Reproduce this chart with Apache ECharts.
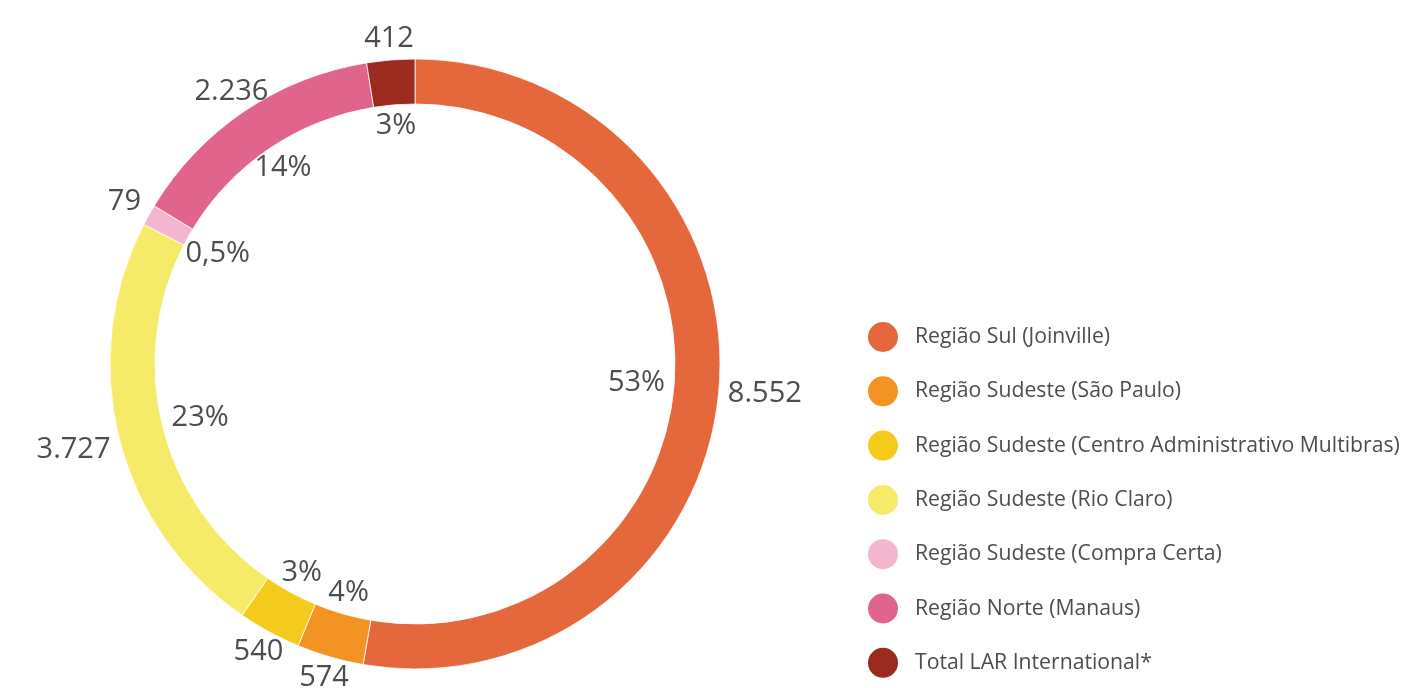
<!DOCTYPE html>
<html>
<head>
<meta charset="utf-8">
<script src="https://cdn.jsdelivr.net/npm/echarts@6/dist/echarts.min.js"></script>
<style>
html,body{margin:0;padding:0;background:#fff;}
#c{width:1406px;height:688px;}
</style>
</head>
<body>
<div id="c"></div>
<script>
const categories = [
  'Região Sul (Joinville)',
  'Região Sudeste (São Paulo)',
  'Região Sudeste (Centro Administrativo Multibras)',
  'Região Sudeste (Rio Claro)',
  'Região Sudeste (Compra Certa)',
  'Região Norte (Manaus)',
  'Total LAR International*'
];
const values = [8552, 574, 540, 3727, 79, 2236, 412];
const colors = ['#E5683C', '#F29324', '#F4CB1D', '#F6EA69', '#F3B6CE', '#E0648B', '#9B2A1F'];

const FONT = '"Open Sans", "Noto Sans", sans-serif';
const TEXT = '#4b4e50';
const total = values.reduce((a, b) => a + b, 0);

function fmtThousands(v) {
  return String(v).replace(/\B(?=(\d{3})+(?!\d))/g, '.');
}
function fmtPercent(v) {
  const p = v / total * 100;
  if (p < 1) return p.toFixed(1).replace('.', ',') + '%';
  return Math.round(p) + '%';
}

const center = [415, 364];
const R_OUT = 305, R_IN = 260;

// Place a label so that its box sits just outside (side=1) or inside (side=-1) the ring,
// along the direction of the slice's middle angle (taken from the library's own label position).
function ringLayout(baseR, gap, side) {
  return function (p) {
    const r = p.labelRect;
    const lx = r.x + r.width / 2, ly = r.y + r.height / 2;
    let ux = lx - center[0], uy = ly - center[1];
    const len = Math.sqrt(ux * ux + uy * uy) || 1;
    ux /= len; uy /= len;
    const hw = r.width / 2, hh = r.height * 0.42;
    const t = Math.min(Math.abs(ux) > 1e-6 ? hw / Math.abs(ux) : Infinity,
                       Math.abs(uy) > 1e-6 ? hh / Math.abs(uy) : Infinity);
    const d = baseR + side * (gap + t);
    return { x: center[0] + ux * d, y: center[1] + uy * d, align: 'center', verticalAlign: 'middle' };
  };
}

const common = {
  type: 'pie',
  center: center,
  startAngle: 90,
  clockwise: true,
  minAngle: 4,
  avoidLabelOverlap: false,
  labelLine: { show: false },
  emphasis: { disabled: true }
};

const chart = echarts.init(document.getElementById('c'), null, { renderer: 'canvas' });
chart.setOption({
  animation: false,
  color: colors,
  legend: {
    orient: 'vertical',
    left: 866,
    top: 320,
    height: 368,
    padding: 0,
    icon: 'circle',
    itemWidth: 32,
    itemHeight: 32,
    itemGap: 20.3,
    selectedMode: false,
    data: categories.map((n, i) => ({ name: n, itemStyle: { color: colors[i] } })),
    textStyle: { fontFamily: FONT, fontSize: 21.2, color: TEXT, padding: [0, 0, 0, 11] }
  },
  series: [
    Object.assign({}, common, {
      name: 'ring',
      radius: [R_IN, R_OUT],
      itemStyle: { borderColor: '#fff', borderWidth: 0.8 },
      label: { show: false },
      data: categories.map((n, i) => ({ name: n, value: values[i], itemStyle: { color: colors[i] } }))
    }),
    Object.assign({}, common, {
      name: 'values',
      radius: [322, 362],
      silent: true,
      itemStyle: { color: 'rgba(0,0,0,0)' },
      label: {
        show: true, position: 'inside',
        fontFamily: FONT, fontSize: 29, color: TEXT,
        formatter: p => fmtThousands(p.value)
      },
      labelLayout: ringLayout(R_OUT, 9, 1),
      data: categories.map((n, i) => ({ name: n, value: values[i] }))
    }),
    Object.assign({}, common, {
      name: 'percent',
      radius: [208, 248],
      silent: true,
      itemStyle: { color: 'rgba(0,0,0,0)' },
      label: {
        show: true, position: 'inside',
        fontFamily: FONT, fontSize: 29, color: TEXT,
        formatter: p => fmtPercent(p.value)
      },
      labelLayout: ringLayout(R_IN, 9, -1),
      data: categories.map((n, i) => ({ name: n, value: values[i] }))
    })
  ]
});
</script>
</body>
</html>
